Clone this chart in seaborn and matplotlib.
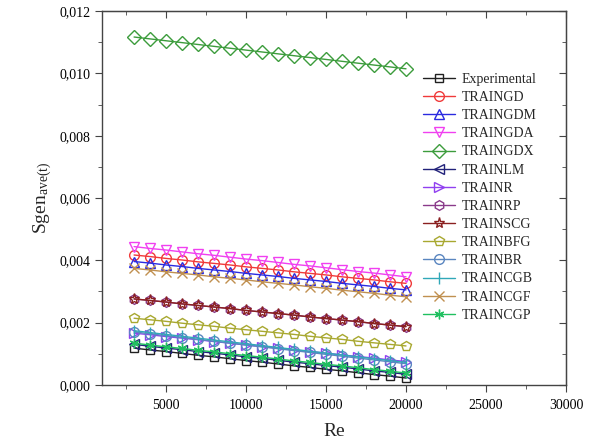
import matplotlib
matplotlib.use("Agg")
import matplotlib.pyplot as plt
import matplotlib.ticker as mticker
import seaborn as sns

# Reynolds numbers
re_vals = [3000, 4000, 5000, 6000, 7000, 8000, 9000, 10000, 11000, 12000,
           13000, 14000, 15000, 16000, 17000, 18000, 19000, 20000]

# average entropy generation
experimental = [0.00118, 0.00112, 0.00107, 0.00101, 0.00095, 0.00090, 0.00084, 0.00078, 0.00073,
                0.00067, 0.00061, 0.00056, 0.00050, 0.00045, 0.00039, 0.00033, 0.00028, 0.00022]
traingd = [0.00417, 0.00412, 0.00406, 0.00401, 0.00395, 0.00390, 0.00385, 0.00379, 0.00374,
           0.00369, 0.00363, 0.00358, 0.00353, 0.00347, 0.00342, 0.00337, 0.00331, 0.00326]
traingdm = [0.00396, 0.00391, 0.00385, 0.00380, 0.00374, 0.00369, 0.00364, 0.00358, 0.00353,
            0.00348, 0.00342, 0.00337, 0.00332, 0.00326, 0.00321, 0.00316, 0.00310, 0.00305]
traingda = [0.00444, 0.00438, 0.00433, 0.00427, 0.00421, 0.00416, 0.00410, 0.00404, 0.00399,
            0.00393, 0.00387, 0.00382, 0.00376, 0.00370, 0.00364, 0.00359, 0.00353, 0.00347]
traingdx = [0.01117, 0.01111, 0.01105, 0.01099, 0.01093, 0.01087, 0.01081, 0.01075, 0.01069,
            0.01063, 0.01057, 0.01051, 0.01045, 0.01039, 0.01033, 0.01027, 0.01021, 0.01015]
trainlm = [0.00130, 0.00124, 0.00118, 0.00113, 0.00107, 0.00102, 0.00096, 0.00090, 0.00085,
           0.00079, 0.00073, 0.00068, 0.00062, 0.00057, 0.00051, 0.00045, 0.00040, 0.00034]
trainr = [0.00166, 0.00161, 0.00155, 0.00150, 0.00145, 0.00139, 0.00134, 0.00128, 0.00123,
          0.00118, 0.00112, 0.00107, 0.00102, 0.00096, 0.00091, 0.00086, 0.00080, 0.00075]
trainrp = [0.00276, 0.00271, 0.00266, 0.00260, 0.00255, 0.00250, 0.00245, 0.00239, 0.00234,
           0.00229, 0.00224, 0.00218, 0.00213, 0.00208, 0.00203, 0.00197, 0.00192, 0.00187]
trainscg = [0.00276, 0.00271, 0.00266, 0.00260, 0.00255, 0.00250, 0.00245, 0.00239, 0.00234,
            0.00229, 0.00224, 0.00218, 0.00213, 0.00208, 0.00203, 0.00197, 0.00192, 0.00187]
trainbfg = [0.00214, 0.00209, 0.00204, 0.00198, 0.00193, 0.00188, 0.00182, 0.00177, 0.00172,
            0.00167, 0.00162, 0.00156, 0.00151, 0.00146, 0.00140, 0.00135, 0.00130, 0.00125]
trainbr = [0.00170, 0.00164, 0.00158, 0.00152, 0.00146, 0.00140, 0.00134, 0.00128, 0.00122,
           0.00116, 0.00110, 0.00104, 0.00098, 0.00092, 0.00086, 0.00080, 0.00074, 0.00068]
traincgb = [0.00174, 0.00168, 0.00162, 0.00156, 0.00150, 0.00144, 0.00138, 0.00132, 0.00126,
            0.00120, 0.00114, 0.00108, 0.00102, 0.00096, 0.00090, 0.00084, 0.00078, 0.00072]
traincgf = [0.00374, 0.00369, 0.00363, 0.00358, 0.00353, 0.00347, 0.00342, 0.00337, 0.00331,
            0.00326, 0.00321, 0.00315, 0.00310, 0.00304, 0.00299, 0.00294, 0.00288, 0.00283]
traincgp = [0.00134, 0.00128, 0.00122, 0.00117, 0.00111, 0.00106, 0.00100, 0.00094, 0.00089,
            0.00083, 0.00077, 0.00072, 0.00066, 0.00061, 0.00055, 0.00049, 0.00044, 0.00038]

series_names = ["Experimental", "TRAINGD", "TRAINGDM", "TRAINGDA", "TRAINGDX", "TRAINLM",
                "TRAINR", "TRAINRP", "TRAINSCG", "TRAINBFG", "TRAINBR", "TRAINCGB",
                "TRAINCGF", "TRAINCGP"]
series_values = [experimental, traingd, traingdm, traingda, traingdx, trainlm, trainr,
                 trainrp, trainscg, trainbfg, trainbr, traincgb, traincgf, traincgp]

# Origin-like symbol colours and shapes
colors = ["#202020", "#f03a3a", "#2a2ae0", "#f040f0", "#3c9c3c", "#22227a", "#9040f0",
          "#8a3a8a", "#8a2020", "#a8a830", "#5a86c0", "#30a8b8", "#c09050", "#20c060"]
markers = ["s", "o", "^", "v", "D", "<", ">", "h", "*", "p", "o", "|", "x", (6, 2, 0)]
sizes = [6, 7, 7, 7, 7, 7, 7, 7, 8, 7, 7, 8, 7, 7]

sns.set_style("ticks")
plt.rcParams["font.family"] = ["Liberation Serif", "DejaVu Serif"]
plt.rcParams["mathtext.fontset"] = "custom"
plt.rcParams["mathtext.rm"] = "Liberation Serif"
plt.rcParams["mathtext.it"] = "Liberation Serif"

fig = plt.figure(figsize=(5.97, 4.47), dpi=100)
ax = fig.add_axes([0.171, 0.139, 0.777, 0.836])

for name, vals, c, m, s in zip(series_names, series_values, colors, markers, sizes):
    sns.lineplot(x=re_vals, y=vals, ax=ax, color=c, marker=m, markersize=s,
                 markerfacecolor="none", markeredgecolor=c, markeredgewidth=1.0,
                 linewidth=1.0, label=name)

ax.set_xlim(1000, 30000)
ax.set_ylim(0, 0.012)
ax.xaxis.set_major_locator(mticker.MultipleLocator(5000))
ax.xaxis.set_minor_locator(mticker.MultipleLocator(2500))
ax.yaxis.set_major_locator(mticker.MultipleLocator(0.002))
ax.yaxis.set_minor_locator(mticker.MultipleLocator(0.001))
ax.yaxis.set_major_formatter(mticker.FuncFormatter(lambda v, p: f"{v:.3f}".replace(".", ",")))
ax.xaxis.set_major_formatter(mticker.FuncFormatter(lambda v, p: f"{v:.0f}"))

ax.tick_params(which="both", direction="out", colors="#444444", labelcolor="black",
               labelsize=10)
ax.tick_params(which="major", length=5)
ax.tick_params(which="minor", length=3)
ax.tick_params(axis="x", pad=5)

# mirrored inward ticks on top and right
top = ax.secondary_xaxis("top")
top.xaxis.set_major_locator(mticker.MultipleLocator(5000))
top.xaxis.set_minor_locator(mticker.MultipleLocator(2500))
top.tick_params(which="both", direction="in", labeltop=False, colors="#444444")
top.tick_params(which="major", length=5)
top.tick_params(which="minor", length=3)
right = ax.secondary_yaxis("right")
right.yaxis.set_major_locator(mticker.MultipleLocator(0.002))
right.yaxis.set_minor_locator(mticker.MultipleLocator(0.001))
right.tick_params(which="both", direction="in", labelright=False, colors="#444444")
right.tick_params(which="major", length=5)
right.tick_params(which="minor", length=3)

for sp in ax.spines.values():
    sp.set_color("#444444")
    sp.set_linewidth(1.0)

ax.set_xlabel("Re", fontsize=14, labelpad=8)
ax.set_ylabel(r"Sgen$_{\mathrm{ave(t)}}$", fontsize=14)

ax.legend(loc="upper left", bbox_to_anchor=(0.692, 0.835), frameon=False, fontsize=10,
          labelspacing=0.37, handlelength=2.3, handletextpad=0.5, borderaxespad=0,
          borderpad=0)

fig.savefig("out.png", dpi=100)
